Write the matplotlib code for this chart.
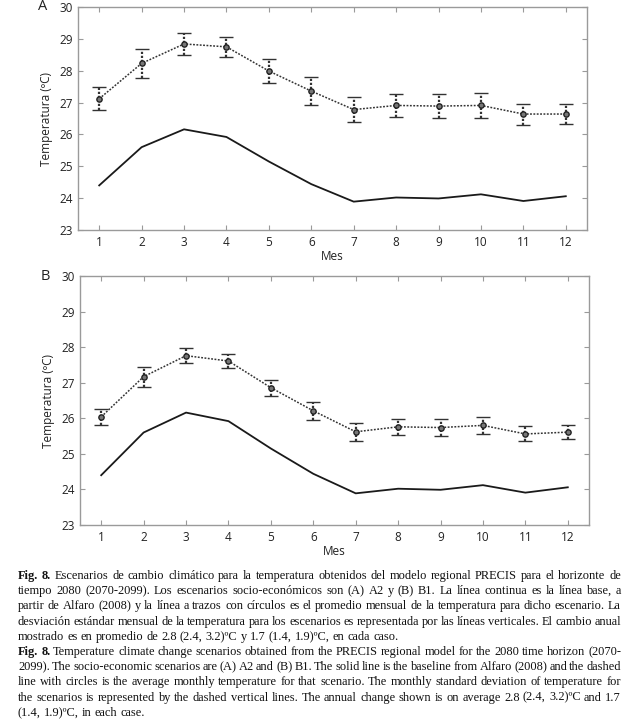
import matplotlib
matplotlib.use("Agg")
import matplotlib.pyplot as plt
import numpy as np

# datos
meses = [1, 2, 3, 4, 5, 6, 7, 8, 9, 10, 11, 12]
base = [24.40, 25.60, 26.16, 25.92, 25.15, 24.44, 23.89, 24.02, 23.99, 24.12, 23.91, 24.06]
esc_a = [27.12, 28.23, 28.84, 28.75, 27.99, 27.36, 26.78, 26.91, 26.89, 26.91, 26.64, 26.64]
sd_a = [0.36, 0.45, 0.35, 0.32, 0.37, 0.43, 0.39, 0.37, 0.38, 0.38, 0.33, 0.31]
esc_b = [26.04, 27.17, 27.76, 27.61, 26.86, 26.21, 25.62, 25.76, 25.74, 25.80, 25.56, 25.61]
sd_b = [0.22, 0.28, 0.21, 0.20, 0.23, 0.26, 0.25, 0.23, 0.23, 0.23, 0.21, 0.19]
yticks = [23, 24, 25, 26, 27, 28, 29, 30]

W, H = 639, 727
fig = plt.figure(figsize=(W/100, H/100), dpi=100)

gris = '#9a9a9a'
tick_font = 'Open Sans'

def panel(rect, esc, sd, letra):
    ax = fig.add_axes(rect)
    ax.plot(meses, base, color='#1a1a1a', lw=1.3)
    ln, caps, bars = ax.errorbar(meses, esc, yerr=sd, color='#333333', ls=(0, (1.2, 1.0)), lw=1.1,
                                 marker='o', ms=3.8, mfc='#777777', mec='#222222', mew=1.0,
                                 capsize=5, capthick=1.2, elinewidth=1.6)
    for b in bars:
        b.set_linestyle((0, (1, 0.8)))
    ax.set_xlim(0.5, 12.5)
    ax.set_ylim(23, 30)
    ax.set_xticks(meses)
    ax.set_yticks(yticks)
    ax.tick_params(direction='in', top=True, right=True, length=3.5, color=gris,
                   labelsize=8.5, pad=4, labelcolor='#222222')
    for lab in ax.get_xticklabels() + ax.get_yticklabels():
        lab.set_family(tick_font)
    for s in ax.spines.values():
        s.set_color(gris)
        s.set_linewidth(1.0)
    ax.set_xlabel('Mes', family=tick_font, fontsize=8.5, labelpad=1, color='#222222')
    ax.set_ylabel('Temperatura (ºC)', family=tick_font, fontsize=8.5, labelpad=4, color='#222222')
    fig.text(rect[0] - 0.055, rect[1] + rect[3], letra, family=tick_font, fontsize=10.5,
             ha='center', va='center', color='#222222')
    return ax

panel([78/W, 1 - 230/H, 509/W, 223/H], esc_a, sd_a, 'A')
panel([80/W, 1 - 525/H, 509/W, 249/H], esc_b, sd_b, 'B')

# leyenda de la figura (texto justificado)
lineas = [
    "**Fig. 8.** Escenarios de cambio climático para la temperatura obtenidos del modelo regional PRECIS para el horizonte de",
    "tiempo 2080 (2070-2099). Los escenarios socio-económicos son (A) A2 y (B) B1. La línea continua es la línea base, a",
    "partir de Alfaro (2008) y la línea a trazos con círculos es el promedio mensual de la temperatura para dicho escenario. La",
    "desviación estándar mensual de la temperatura para los escenarios es representada por las líneas verticales. El cambio anual",
    "mostrado es en promedio de 2.8 (2.4, 3.2)ºC y 1.7 (1.4, 1.9)ºC, en cada caso.",
    "**Fig. 8.** Temperature climate change scenarios obtained from the PRECIS regional model for the 2080 time horizon (2070-",
    "2099). The socio-economic scenarios are (A) A2 and (B) B1. The solid line is the baseline from Alfaro (2008) and the dashed",
    "line with circles is the average monthly temperature for that scenario. The monthly standard deviation of temperature for",
    "the scenarios is represented by the dashed vertical lines. The annual change shown is on average 2.8 (2.4, 3.2)ºC and 1.7",
    "(1.4, 1.9)ºC, in each case.",
]
ultimas = [4, 9]

x0, x1 = 18, 621
y0, dy = 576, 15.2
fs = 8.9
r = fig.canvas.get_renderer()

for i, ln in enumerate(lineas):
    bold = ln.startswith("**")
    if bold:
        ln = ln.replace("**Fig. 8.**", "Fig. 8.")
    words = ln.split(" ")
    objs = []
    for j, w in enumerate(words):
        fw = 'bold' if (bold and j < 2) else 'normal'
        t = fig.text(0, 1 - (y0 + i*dy)/H, w, family='Liberation Serif', fontsize=fs,
                     fontweight=fw, va='center', ha='left', color='#111111')
        objs.append(t)
    widths = [t.get_window_extent(r).width for t in objs]
    if i in ultimas:
        gap = fs * 0.25 * 100/72
    else:
        gap = (x1 - x0 - sum(widths)) / (len(words) - 1)
    x = x0
    for t, wd in zip(objs, widths):
        t.set_x(x / W)
        x += wd + gap

fig.savefig('out.png', dpi=100)
